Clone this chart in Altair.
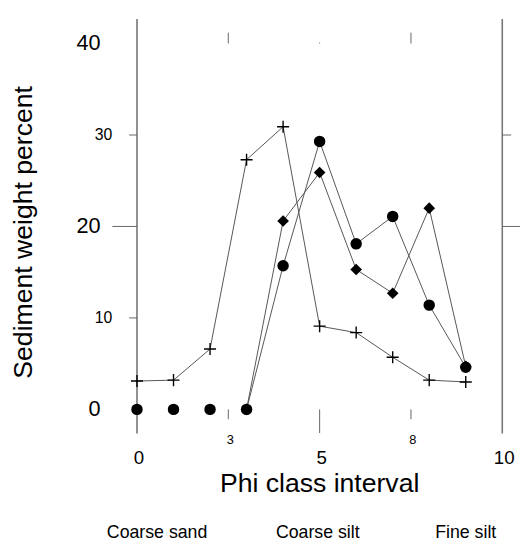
import altair as alt
import pandas as pd

# ---------------- data ----------------
phi = [0, 1, 2, 3, 4, 5, 6, 7, 8, 9]
cross_pct = [3.1, 3.2, 6.6, 27.3, 30.9, 9.1, 8.4, 5.7, 3.2, 3.0]
circle_pct = [0, 0, 0, 0, 15.7, 29.3, 18.1, 21.1, 11.4, 4.6]
diamond_phi = [3, 4, 5, 6, 7, 8, 9]
diamond_pct = [0, 20.6, 25.9, 15.3, 12.7, 22.0, 4.7]
circle_line_from = 3  # circles before this are not joined by a line

y_big_labels = [0, 20, 40]
y_small_labels = [10, 30]
left_short_ticks = [10, 30]
left_long_ticks = [20]
right_short_ticks = [30]
right_long_ticks = [20]
x_main_labels = [0, 5, 10]
x_minor_ticks = [2.5, 7.5]
x_minor_texts = ["3", "8"]
bottom_long_ticks = [5]
top_ticks = [2.5, 7.5]
zone_names = ["Coarse sand", "Coarse silt", "Fine silt"]
zone_phi = [0.55, 4.95, 9.0]

X_DOMAIN = [0, 10]
Y_DOMAIN = [-2.64, 42.68]
FONT = "Liberation Sans"

xs = alt.Scale(domain=X_DOMAIN, nice=False, zero=False)
ys = alt.Scale(domain=Y_DOMAIN, nice=False, zero=False)


def X(field):
    return alt.X(field, type="quantitative", scale=xs, axis=None)


def Y(field):
    return alt.Y(field, type="quantitative", scale=ys, axis=None)


def XD(v):
    return alt.XDatum(v, type="quantitative", scale=xs, axis=None)


def YD(v):
    return alt.YDatum(v, type="quantitative", scale=ys, axis=None)


cross_df = pd.DataFrame({"phi": phi, "pct": cross_pct})
circle_df = pd.DataFrame({"phi": phi, "pct": circle_pct})
circle_line_df = circle_df[circle_df["phi"] >= circle_line_from]
diamond_df = pd.DataFrame({"phi": diamond_phi, "pct": diamond_pct})

LINE = dict(color="#555555", strokeWidth=1)

cross_line = alt.Chart(cross_df).mark_line(**LINE).encode(x=X("phi"), y=Y("pct"))
circle_line = alt.Chart(circle_line_df).mark_line(**LINE).encode(x=X("phi"), y=Y("pct"))
diamond_line = alt.Chart(diamond_df).mark_line(**LINE).encode(x=X("phi"), y=Y("pct"))

diamonds = alt.Chart(diamond_df).mark_point(
    shape="diamond", filled=True, color="black", size=140, opacity=1
).encode(x=X("phi"), y=Y("pct"))
circles = alt.Chart(circle_df).mark_point(
    shape="circle", filled=True, color="black", size=135, opacity=1
).encode(x=X("phi"), y=Y("pct"))
crosses = alt.Chart(cross_df).mark_point(
    shape="M-1,0L1,0M0,-1L0,1", filled=False, color="black", size=150,
    strokeWidth=1.4, opacity=1
).encode(x=X("phi"), y=Y("pct"))

# ---------------- frame and ticks ----------------
frame_df = pd.DataFrame({"a": [0]})
left_line = alt.Chart(frame_df).mark_rule(color="#222222", strokeWidth=1).encode(
    x=XD(X_DOMAIN[0]), y=YD(Y_DOMAIN[0]), y2=alt.Y2Datum(Y_DOMAIN[1])
)
right_line = alt.Chart(frame_df).mark_rule(color="#777777", strokeWidth=1.6).encode(
    x=XD(X_DOMAIN[1]), y=YD(Y_DOMAIN[0]), y2=alt.Y2Datum(Y_DOMAIN[1])
)

TICK = dict(color="#666666", strokeWidth=1)


def hticks(values, at, offset):
    return alt.Chart(pd.DataFrame({"v": values})).mark_rule(x2Offset=offset, **TICK).encode(
        x=XD(at), x2=alt.X2Datum(at), y=Y("v")
    )


def vticks(values, at, offset):
    return alt.Chart(pd.DataFrame({"v": values})).mark_rule(y2Offset=offset, **TICK).encode(
        x=X("v"), y=YD(at), y2=alt.Y2Datum(at)
    )


ticks = [
    hticks(left_short_ticks, 0, -8),
    hticks(left_long_ticks, 0, -25),
    hticks(right_short_ticks, 10, 9),
    hticks(right_long_ticks, 10, 18),
    vticks(x_minor_ticks, 0, 10),
    vticks(bottom_long_ticks, 0, 24),
    vticks(top_ticks, 40, -11),
    vticks(bottom_long_ticks, 40, -1),
]

# ---------------- labels ----------------
ybig = alt.Chart(pd.DataFrame({"v": y_big_labels, "t": [str(v) for v in y_big_labels]})).mark_text(
    font=FONT, fontSize=22, align="right", baseline="middle", dx=-37, color="black"
).encode(x=XD(0), y=Y("v"), text="t:N")
ysmall = alt.Chart(pd.DataFrame({"v": y_small_labels, "t": [str(v) for v in y_small_labels]})).mark_text(
    font=FONT, fontSize=16, align="right", baseline="middle", dx=-25, color="black"
).encode(x=XD(0), y=Y("v"), text="t:N")

xmain = alt.Chart(pd.DataFrame({"v": x_main_labels, "t": [str(v) for v in x_main_labels]})).mark_text(
    font=FONT, fontSize=19, align="center", baseline="alphabetic", dx=2, dy=55, color="black"
).encode(x=X("v"), y=YD(0), text="t:N")
xminor = alt.Chart(pd.DataFrame({"v": x_minor_ticks, "t": x_minor_texts})).mark_text(
    font=FONT, fontSize=13, align="center", baseline="alphabetic", dx=2, dy=35, color="black"
).encode(x=X("v"), y=YD(0), text="t:N")

xtitle = alt.Chart(pd.DataFrame({"t": ["Phi class interval"]})).mark_text(
    font=FONT, fontSize=27, align="center", baseline="alphabetic", dy=84, color="black"
).encode(x=XD(5), y=YD(0), text="t:N")
ytitle = alt.Chart(pd.DataFrame({"t": ["Sediment weight percent"]})).mark_text(
    font=FONT, fontSize=27, align="center", baseline="middle", angle=270,
    xOffset=-115, yOffset=6, color="black"
).encode(x=XD(0), y=YD(20), text="t:N")

zones = alt.Chart(pd.DataFrame({"v": zone_phi, "t": zone_names})).mark_text(
    font=FONT, fontSize=18, align="center", baseline="alphabetic", dy=131, color="black"
).encode(x=X("v"), y=YD(0), text="t:N")

chart = alt.layer(
    left_line, right_line, *ticks,
    cross_line, circle_line, diamond_line,
    diamonds, circles, crosses,
    ybig, ysmall, xmain, xminor, xtitle, ytitle, zones,
).properties(
    width=371,
    height=421,
    autosize=alt.AutoSizeParams(type="none"),
    padding={"left": 131, "top": 7, "right": 18, "bottom": 109},
    background="white",
).configure_view(stroke=None)

chart.save("out.html", embed_options={"renderer": "svg", "actions": False})
